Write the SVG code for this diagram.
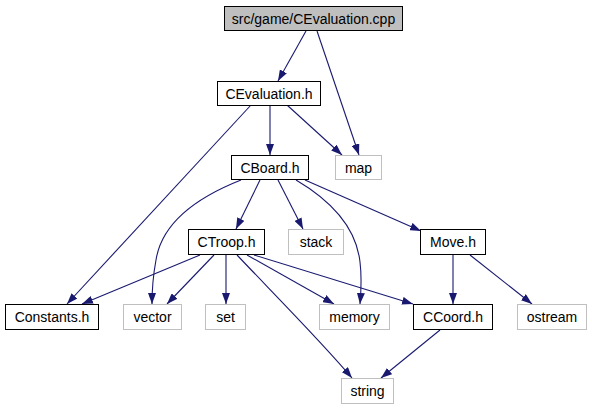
<svg xmlns="http://www.w3.org/2000/svg" width="592" height="411" viewBox="0 0 592 411">
<defs>
<marker id="ah" viewBox="0 0 11 8" refX="11" refY="4" markerWidth="11" markerHeight="8" markerUnits="userSpaceOnUse" orient="auto">
<path d="M0,0 L11,4 L0,8 z" fill="#191970"/>
</marker>
<style>
.n rect{fill:#fff;stroke:#000;stroke-width:1}
.x rect{fill:#fff;stroke:#bfbfbf;stroke-width:1}
.r rect{fill:#bfbfbf;stroke:#000;stroke-width:1}
text{font-family:"Liberation Sans",Arial,sans-serif;font-size:14px;fill:#000;text-anchor:middle}
#edges path{fill:none;stroke:#191970;stroke-width:1.1;marker-end:url(#ah)}
</style>
</defs>
<rect width="592" height="411" fill="#fff"/>
<g id="edges">
<path d="M306,31 L278,81"/>
<path d="M317,31 L359,155"/>
<path d="M270,105 L270,155"/>
<path d="M287,105 L342,155"/>
<path d="M251,105 L67,304"/>
<path d="M241,180 C198,197 162,222 156,260 C153,276 152,290 152,304"/>
<path d="M260,180 L236,229"/>
<path d="M278,180 L303,229"/>
<path d="M296,180 C330,200 356,226 360,262 C362,278 361,292 360,304"/>
<path d="M305,180 L421,231"/>
<path d="M200,255 L82,304"/>
<path d="M214,255 L167,304"/>
<path d="M226,255 L226,304"/>
<path d="M247,255 L334,304"/>
<path d="M254,255 L413,304"/>
<path d="M237,255 C270,290 320,340 352,378"/>
<path d="M453,255 L453,304"/>
<path d="M470,255 L532,304"/>
<path d="M440,330 L381,378"/>
</g>
<g id="root" class="r"><rect x="224.5" y="6.5" width="178" height="24"/><text x="313.5" y="23.5">src/game/CEvaluation.cpp</text></g>
<g id="cevaluation_h" class="n"><rect x="217.5" y="81.5" width="103" height="24"/><text x="269" y="98.5">CEvaluation.h</text></g>
<g id="cboard_h" class="n"><rect x="231.5" y="155.5" width="77" height="24"/><text x="270" y="172.5">CBoard.h</text></g>
<g id="map" class="x"><rect x="335.5" y="155.5" width="46" height="24"/><text x="358.5" y="172.5">map</text></g>
<g id="ctroop_h" class="n"><rect x="188.5" y="229.5" width="76" height="25"/><text x="226.5" y="247">CTroop.h</text></g>
<g id="stack" class="x"><rect x="288.5" y="229.5" width="55" height="25"/><text x="316" y="247">stack</text></g>
<g id="move_h" class="n"><rect x="420.5" y="229.5" width="65" height="25"/><text x="453" y="247">Move.h</text></g>
<g id="constants_h" class="n"><rect x="5.5" y="304.5" width="93" height="25"/><text x="52" y="322">Constants.h</text></g>
<g id="vector" class="x"><rect x="123.5" y="304.5" width="58" height="25"/><text x="152.5" y="322">vector</text></g>
<g id="set" class="x"><rect x="205.5" y="304.5" width="40" height="25"/><text x="225.5" y="322">set</text></g>
<g id="memory" class="x"><rect x="319.5" y="304.5" width="70" height="25"/><text x="354.5" y="322">memory</text></g>
<g id="ccoord_h" class="n"><rect x="413.5" y="304.5" width="79" height="25"/><text x="453" y="322">CCoord.h</text></g>
<g id="ostream" class="x"><rect x="517.5" y="304.5" width="69" height="25"/><text x="552" y="322">ostream</text></g>
<g id="string" class="x"><rect x="341.5" y="378.5" width="52" height="25"/><text x="367.5" y="396">string</text></g>
</svg>
